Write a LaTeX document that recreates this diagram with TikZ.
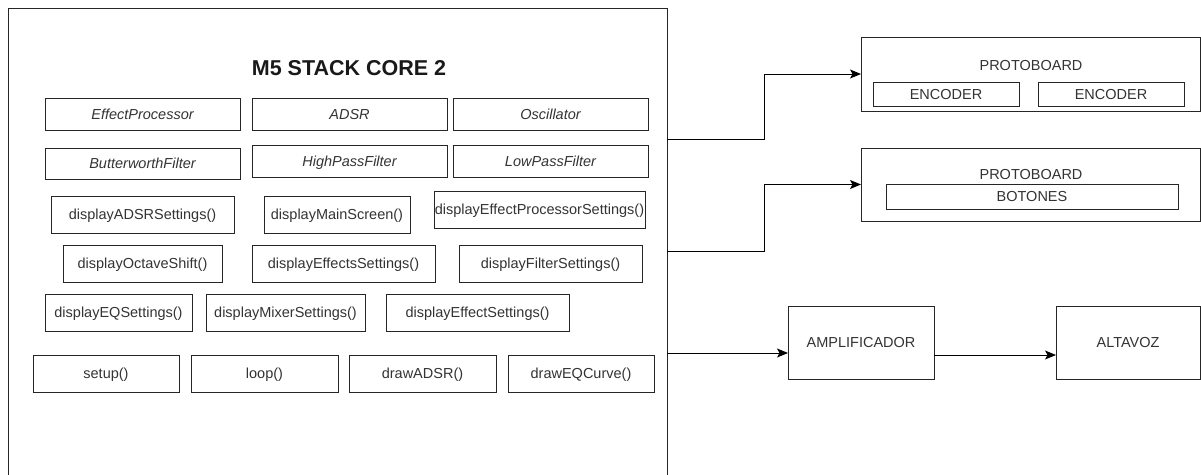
\documentclass[tikz,border=0pt]{standalone}
\usepackage{fontspec}
\setmainfont{Liberation Sans}
\usetikzlibrary{arrows.meta}
\definecolor{txt}{RGB}{51,51,51}
\tikzset{
  boxst/.style={draw=black!85,line width=1pt,rectangle,inner sep=0pt,outer sep=0pt,
    text=txt,font=\fontsize{14.5}{17}\selectfont,align=center,text height=10.4pt,text depth=0pt},
  itbox/.style={boxst,font=\fontsize{14.5}{17}\selectfont\itshape},
  lbl/.style={text=txt,font=\fontsize{14.5}{17}\selectfont,inner sep=0pt,text height=10.4pt,text depth=0pt},
  arr/.style={draw=black,line width=1pt,-{Stealth[length=11pt,width=9pt,inset=2.5pt]}}
}
\newcommand\bx[7][]{\node[boxst,#1,minimum width={(#5-#3)*1pt},minimum height={(#6-#4)*1pt}] (#2) at ({(#3+#5)/2},{(#4+#6)/2}) {#7};}
\begin{document}
\begin{tikzpicture}[x=1pt,y=-1pt]
\useasboundingbox (0,0) rectangle (1201,474);
\clip (0,0) rectangle (1201,474);
% main box
\bx{main}{8}{8}{667}{500}{}
\node[font=\fontsize{21.5}{24}\selectfont\bfseries,text=black!90,inner sep=0pt,text height=15.4pt,text depth=0pt] (title) at (349,68) {M5 STACK CORE 2};
% row 1
\bx[itbox]{ep}{45}{98}{240}{130}{EffectProcessor}
\bx[itbox]{adsr}{252}{98}{447}{130}{ADSR}
\bx[itbox]{osc}{453}{98}{648}{130}{Oscillator}
% row 2
\bx[itbox]{bf}{45}{148}{240}{179}{ButterworthFilter}
\bx[itbox]{hpf}{252}{145}{447}{177}{HighPassFilter}
\bx[itbox]{lpf}{453}{145}{648}{177}{LowPassFilter}
% row 3
\bx{dadsr}{51}{196}{234}{233}{displayADSRSettings()}
\bx{dmain}{264}{196}{410}{233}{displayMainScreen()}
\bx{deps}{434}{191}{645}{228}{displayEffectProcessorSettings()}
% row 4
\bx{doct}{63}{245}{222}{282}{displayOctaveShift()}
\bx{deffs}{252}{245}{435}{282}{displayEffectsSettings()}
\bx{dfilt}{459}{245}{642}{282}{displayFilterSettings()}
% row 5
\bx{deq}{45}{294}{192}{331}{displayEQSettings()}
\bx{dmix}{206}{294}{365}{331}{displayMixerSettings()}
\bx{deff}{386}{294}{569}{331}{displayEffectSettings()}
% row 6
\bx{setup}{33}{355}{179}{392}{setup()}
\bx{loop}{191}{355}{338}{392}{loop()}
\bx{dradsr}{349}{355}{496}{392}{drawADSR()}
\bx{dreq}{508}{355}{654}{392}{drawEQCurve()}
% right side
\bx{pa}{861}{37}{1200}{111}{}
\node[lbl] (pal) at (1031,65) {PROTOBOARD};
\bx{enca}{873}{82}{1019}{106}{ENCODER}
\bx{encb}{1038}{82}{1184}{106}{ENCODER}
\bx{pb}{861}{148}{1200}{221}{}
\node[lbl] (pbl) at (1031,174) {PROTOBOARD};
\bx{bot}{886}{184}{1178}{209}{BOTONES}
\bx{amp}{788}{306}{934}{379}{AMPLIFICADOR}
\bx{alt}{1056}{306}{1200}{379}{ALTAVOZ}
% connectors
\coordinate (ka) at (764,139);
\coordinate (kb) at (764,251);
\draw[arr] (main.east |- ka) -- (ka) |- (pa.west);
\draw[arr] (main.east |- kb) -- (kb) |- (pb.west);
\coordinate (kc) at (700,353);
\coordinate (kd) at (1000,355);
\draw[arr] (main.east |- kc) -- (amp.west |- kc);
\draw[arr] (amp.east |- kd) -- (alt.west |- kd);
\end{tikzpicture}
\end{document}
